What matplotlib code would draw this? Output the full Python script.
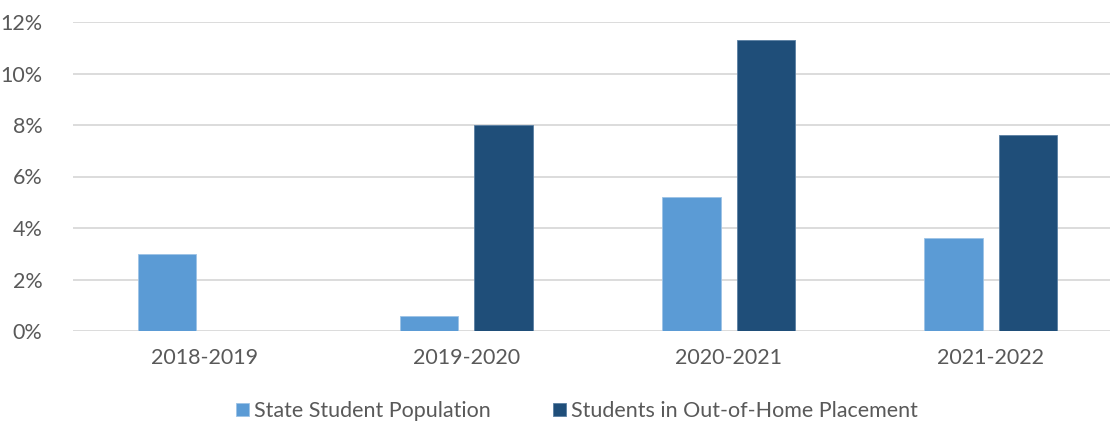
import numpy as np
import matplotlib
matplotlib.use('Agg')
import matplotlib.pyplot as plt
from matplotlib.ticker import FuncFormatter

years = ['2018-2019', '2019-2020', '2020-2021', '2021-2022']
state_pop = [3.0, 0.6, 5.2, 3.6]
out_of_home = [np.nan, 8.0, 11.3, 7.6]
series_names = ['State Student Population', 'Students in Out-of-Home Placement']

plt.rcParams['font.family'] = ['Lato', 'DejaVu Sans']
txt = '#595959'

fig = plt.figure(figsize=(11.1, 4.26), dpi=100)
# plot area runs slightly past the right edge, as in the reference crop
ax = fig.add_axes([73 / 1110, 1 - 331 / 426, (1122 - 73) / 1110, (331 - 22) / 426])

x = np.arange(len(years))
w = 0.223
off = 0.142
ax.bar(x - off, state_pop, w, color='#5B9BD5', edgecolor='#9DC3E6', linewidth=0.6,
       label=series_names[0], zorder=3)
ax.bar(x + off, out_of_home, w, color='#1F4E79', edgecolor='#5A7FA3', linewidth=0.6,
       label=series_names[1], zorder=3)

ax.set_xlim(-0.5, len(years) - 0.5)
ax.set_ylim(0, 12)
ax.set_yticks(np.arange(0, 13, 2))
ax.yaxis.set_major_formatter(FuncFormatter(lambda v, p: f'{v:.0f}%'))
ax.set_xticks(x)
ax.set_xticklabels(years)
ax.grid(axis='y', color='#D9D9D9', linewidth=1.3, zorder=0)
for s in ax.spines.values():
    s.set_visible(False)
ax.tick_params(length=0, labelsize=15.5, colors=txt)
ax.tick_params(axis='x', pad=12)
ax.tick_params(axis='y', pad=22)

fig.legend(loc='center', bbox_to_anchor=(577 / 1110, 1 - 411 / 426), ncol=2,
           frameon=False, fontsize=15.5, labelcolor=txt, handlelength=0.6,
           handleheight=0.6, handletextpad=0.25, columnspacing=2.9)

plt.savefig('out.png', dpi=100)
